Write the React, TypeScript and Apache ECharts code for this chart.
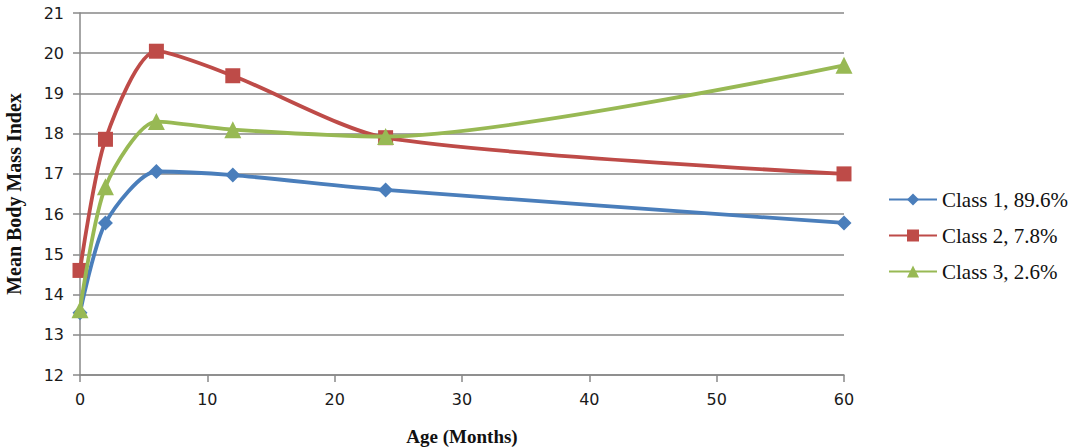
import React, { useEffect, useRef } from "react";
import * as echarts from "echarts";

const ages = [0, 2, 6, 12, 24, 60];
const class1 = [13.55, 15.78, 17.06, 16.97, 16.6, 15.78];
const class2 = [14.6, 17.86, 20.05, 19.44, 17.9, 17.0];
const class3 = [13.62, 16.68, 18.3, 18.1, 17.93, 19.7];
const seriesNames = ["Class 1, 89.6%", "Class 2, 7.8%", "Class 3, 2.6%"];
const colors = ["#4a7ebb", "#be4b48", "#98b954"];

export default function App() {
  const ref = useRef<HTMLDivElement>(null);
  useEffect(() => {
    if (!ref.current) return;
    const chart = echarts.init(ref.current, null, { renderer: "svg" });
    const pair = (vals: number[]) => ages.map((a, i) => [a, vals[i]]);
    const symbols = ["diamond", "rect", "triangle"];
    const sizes = [15, 15, 17];
    const datasets = [class1, class2, class3];
    chart.setOption({
      animation: false,
      backgroundColor: "#ffffff",
      grid: { left: 80, right: 240, top: 13, bottom: 73, outerBoundsMode: "none", containLabel: false },
      xAxis: {
        type: "value",
        min: 0,
        max: 60,
        interval: 10,
        name: "Age (Months)",
        nameLocation: "middle",
        nameGap: 52,
        nameTextStyle: {
          fontFamily: "Liberation Serif",
          fontWeight: "bold",
          fontSize: 19,
          color: "#111",
        },
        axisLine: { show: true, lineStyle: { color: "#888", width: 1.5 } },
        axisTick: { show: true, length: 7, lineStyle: { color: "#888", width: 1.5 } },
        splitLine: { show: false },
        axisLabel: { fontFamily: "DejaVu Sans", fontSize: 16, color: "#1a1a1a", margin: 16 },
      },
      yAxis: {
        type: "value",
        min: 12,
        max: 21,
        interval: 1,
        name: "Mean Body Mass Index",
        nameLocation: "middle",
        nameGap: 56,
        nameTextStyle: {
          fontFamily: "Liberation Serif",
          fontWeight: "bold",
          fontSize: 20,
          color: "#111",
        },
        axisLine: { show: true, lineStyle: { color: "#888", width: 1.5 } },
        axisTick: { show: true, length: 7, lineStyle: { color: "#888", width: 1.5 } },
        splitLine: { show: true, lineStyle: { color: "#878787", width: 1.5 } },
        axisLabel: { fontFamily: "DejaVu Sans", fontSize: 16, color: "#1a1a1a", margin: 16 },
      },
      legend: {
        orient: "vertical",
        left: 883,
        top: 184,
        itemWidth: 48,
        itemHeight: 15,
        itemGap: 15,
        textStyle: { fontFamily: "Liberation Serif", fontSize: 21, color: "#111" },
        data: seriesNames,
      },
      series: datasets.map((d, i) => ({
        name: seriesNames[i],
        type: "line",
        data: pair(d),
        smooth: 0.25,
        symbol: symbols[i],
        symbolSize: sizes[i],
        showAllSymbol: true,
        lineStyle: { color: colors[i], width: 3.8 },
        itemStyle: { color: colors[i] },
        z: i === 2 ? 3 : 2,
      })),
    });
    return () => chart.dispose();
  }, []);
  return (
    <div
      ref={ref}
      style={{ position: "absolute", left: 0, top: 0, width: 1084, height: 448 }}
    />
  );
}
